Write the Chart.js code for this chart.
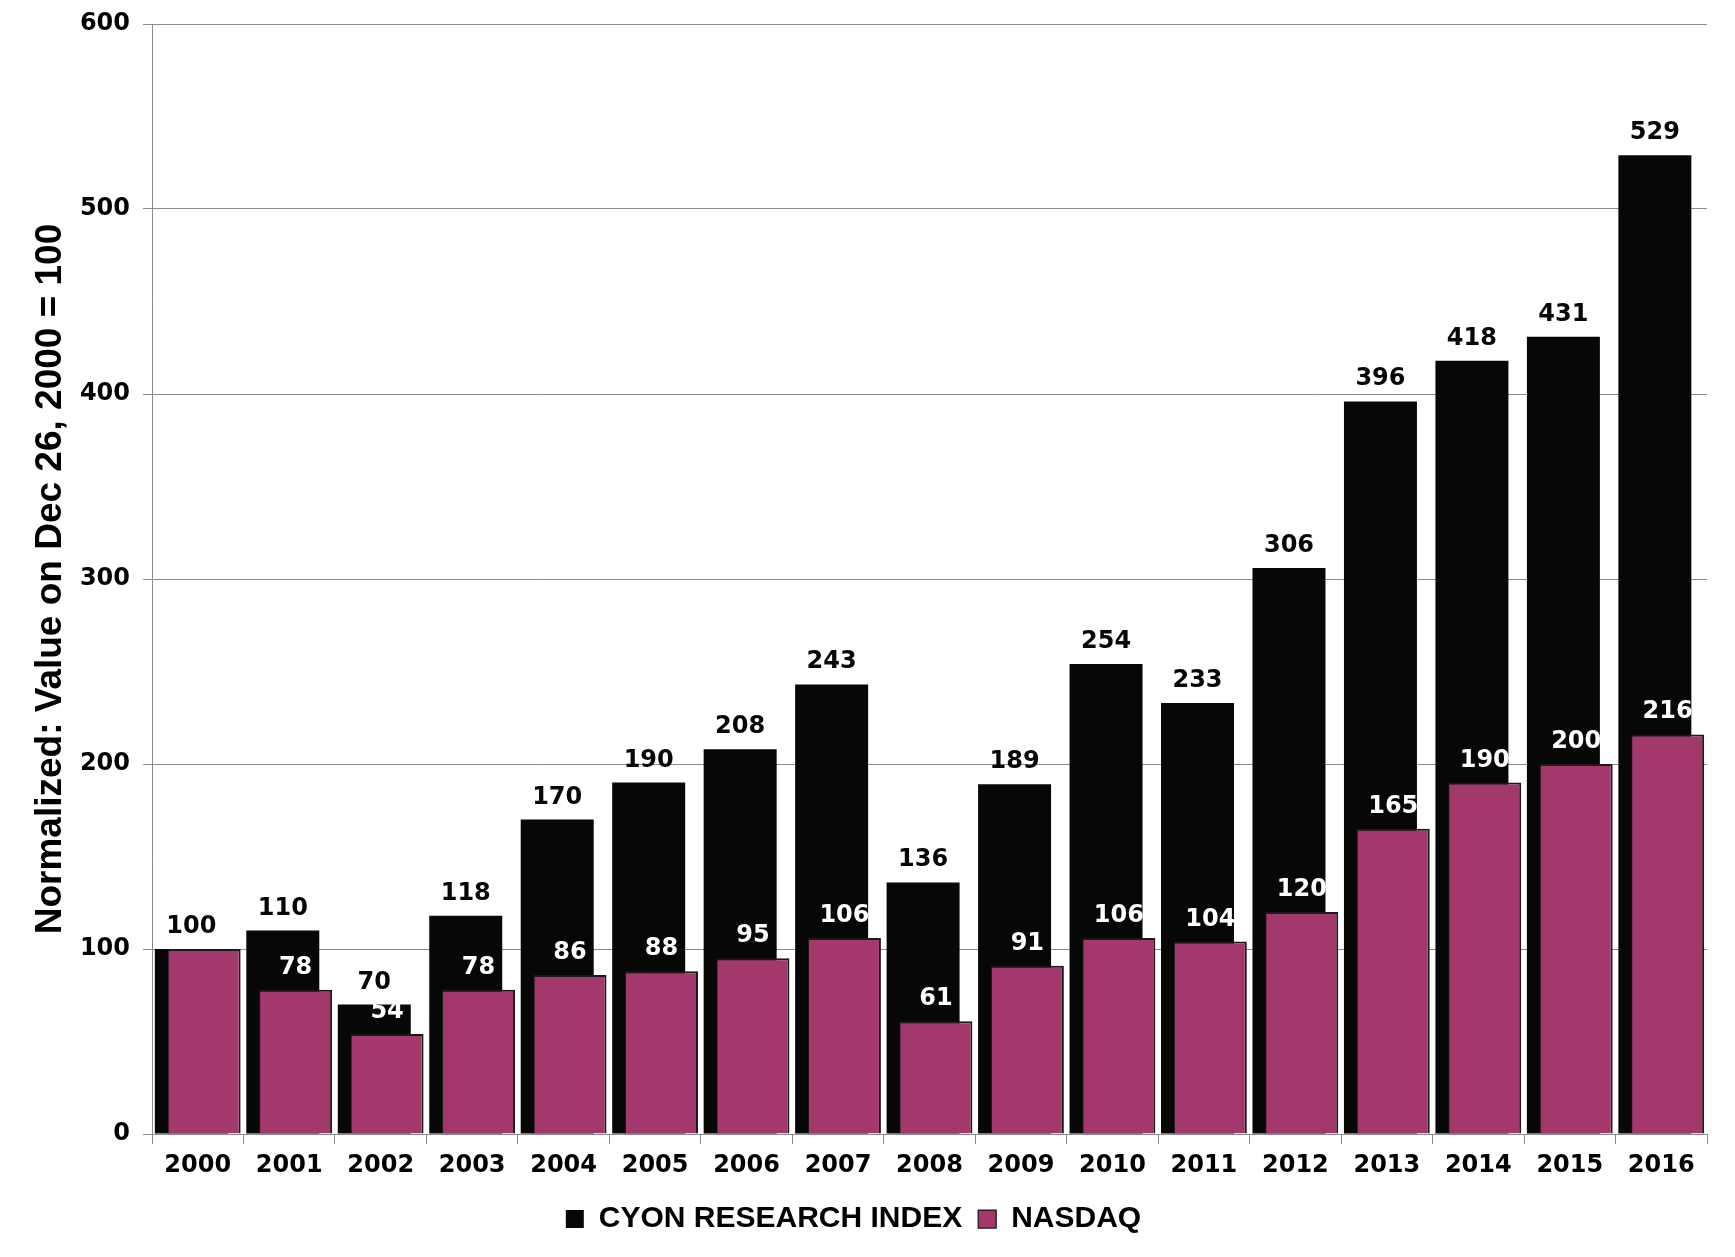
<!DOCTYPE html>
<html>
<head>
<meta charset="utf-8">
<script src="https://cdn.jsdelivr.net/npm/chart.js@4.4.1/dist/chart.umd.min.js"></script>
<style>
  html, body { margin: 0; padding: 0; background: #fff; }
  #wrap { width: 1735px; height: 1257px; }
</style>
</head>
<body>
<div id="wrap"><canvas id="cyon-chart"></canvas></div>
<script>
const years = ["2000", "2001", "2002", "2003", "2004", "2005", "2006", "2007", "2008",
  "2009", "2010", "2011", "2012", "2013", "2014", "2015", "2016"];
const cyonIndex = [100, 110, 70, 118, 170, 190, 208, 243, 136, 189, 254, 233, 306, 396, 418, 431, 529];
const nasdaq = [100, 78, 54, 78, 86, 88, 95, 106, 61, 91, 106, 104, 120, 165, 190, 200, 216];
const yTicks = [0, 100, 200, 300, 400, 500, 600];

const BLACK = "#070707";
const PLUM = "#a3386d";
const numFont = "bold 24px 'DejaVu Sans'";

// black bars sit behind the nasdaq bars, so draw dataset 0 first by hand
const layerFix = {
  id: "layerFix",
  beforeDatasetsDraw(chart) {
    chart.getDatasetMeta(0).controller.draw();
  },
  beforeDatasetDraw(chart, args) {
    if (args.index === 0) return false;
  },
};

const valueLabels = {
  id: "valueLabels",
  afterDatasetsDraw(chart) {
    const ctx = chart.ctx;
    ctx.save();
    ctx.font = numFont;
    ctx.textAlign = "center";
    ctx.textBaseline = "alphabetic";
    chart.getDatasetMeta(0).data.forEach((bar, i) => {
      ctx.fillStyle = BLACK;
      ctx.fillText(cyonIndex[i], bar.x, bar.y - 16);
    });
    chart.getDatasetMeta(1).data.forEach((bar, i) => {
      if (nasdaq[i] >= cyonIndex[i]) return;
      ctx.fillStyle = "#ffffff";
      ctx.fillText(nasdaq[i], bar.x, bar.y - 16);
    });
    ctx.restore();
  },
};

const cyonChart = new Chart(document.querySelector("#cyon-chart"), {
  type: "bar",
  data: {
    labels: years,
    datasets: [
      {
        label: "CYON RESEARCH INDEX",
        data: cyonIndex,
        backgroundColor: BLACK,
        borderWidth: 0,
      },
      {
        label: "NASDAQ",
        data: nasdaq,
        backgroundColor: PLUM,
        borderColor: "#1a1a1a",
        borderWidth: { top: 2, right: 2, left: 1, bottom: 0 },
      },
    ],
  },
  options: {
    responsive: true,
    maintainAspectRatio: false,
    animation: false,
    events: [],
    categoryPercentage: 0.28,
    barPercentage: 5.7,
    layout: {
      padding: { top: 24, right: 28, bottom: 13, left: 0 },
    },
    scales: {
      x: {
        grid: {
          drawOnChartArea: false,
          color: "#8a8a8a",
          tickLength: 10,
          offset: true,
        },
        border: { color: "#8a8a8a", width: 1 },
        ticks: {
          color: "#000",
          font: { family: "DejaVu Sans", size: 24, weight: "bold", lineHeight: 1.0 },
          padding: 10,
          maxRotation: 0,
        },
      },
      y: {
        min: 0,
        max: 600,
        afterBuildTicks(scale) {
          scale.ticks = yTicks.map((v) => ({ value: v }));
        },
        afterFit(scale) {
          scale.width = 152;
        },
        grid: {
          color: "#8a8a8a",
          lineWidth: 1,
          tickLength: 9,
        },
        border: { color: "#8a8a8a", width: 1 },
        ticks: {
          color: "#000",
          font: { family: "DejaVu Sans", size: 24, weight: "bold", lineHeight: 0.8 },
          padding: 13,
        },
        title: {
          display: true,
          text: "Normalized: Value on Dec 26, 2000 = 100",
          color: "#000",
          font: { family: "Liberation Sans", size: 37, weight: "bold" },
          padding: { top: 29, bottom: 0 },
        },
      },
    },
    plugins: {
      tooltip: { enabled: false },
      legend: {
        display: true,
        position: "bottom",
        labels: {
          color: "#000",
          font: { family: "Liberation Sans", size: 30, weight: "bold" },
          boxWidth: 18,
          boxHeight: 18,
          padding: 16,
          sort: (a, b) => a.datasetIndex - b.datasetIndex,
        },
      },
    },
  },
  plugins: [layerFix, valueLabels],
});
</script>
</body>
</html>
